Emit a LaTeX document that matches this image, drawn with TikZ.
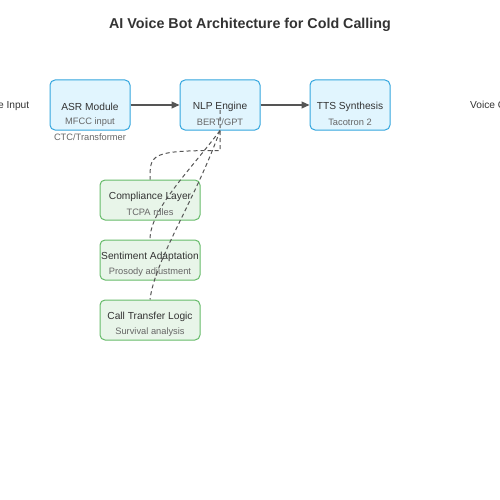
\documentclass[tikz,border=0pt]{standalone}
\usepackage{fontspec}
\setmainfont{Liberation Sans}
\usetikzlibrary{positioning,arrows.meta}
\definecolor{stageFill}{RGB}{225,245,254}
\definecolor{stageBorder}{RGB}{52,166,222}
\definecolor{layerFill}{RGB}{232,245,233}
\definecolor{layerBorder}{RGB}{102,187,106}
\definecolor{mainInk}{RGB}{51,51,51}
\definecolor{subInk}{RGB}{102,102,102}
\definecolor{flowInk}{RGB}{85,85,85}
\tikzstyle{diagram} = [x = 1pt, y = -1pt]
\tikzstyle{stageBox} = [draw=stageBorder, fill=stageFill, rounded corners = 5pt, line width = 1pt, minimum width = 80pt, minimum height = 50pt, inner sep = 0pt]
\tikzstyle{layerBox} = [draw=layerBorder, fill=layerFill, rounded corners = 5pt, line width = 1pt, minimum width = 100pt, minimum height = 40pt, inner sep = 0pt]
\tikzstyle{mainText} = [font=\fontsize{10.2}{12}\selectfont, text=mainInk, inner sep = 0pt]
\tikzstyle{subText} = [font=\fontsize{9.3}{11}\selectfont, text=subInk, inner sep = 0pt]
\tikzstyle{flowLine} = [draw=flowInk, line width = 1.2pt, -{Triangle[length=8pt, width=7pt]}]
\tikzstyle{linkLine} = [draw=flowInk, line width = 1pt, dash pattern = on 4pt off 3pt]
\newcommand{\stage}[4]{
  \node [stageBox] (#1) at (#2) {};
  \node [mainText] (#1-title) at ([yshift=-2pt]#1.center) {#3};
  \node [subText] (#1-sub) at ([yshift=-17pt]#1.center) {#4};
}
\newcommand{\layer}[4]{
  \node [layerBox] (#1) at (#2) {};
  \node [mainText] (#1-title) at ([yshift=3pt]#1.center) {#3};
  \node [subText] (#1-sub) at ([yshift=-12pt]#1.center) {#4};
}
\begin{document}
\begin{tikzpicture}[diagram]
        \useasboundingbox (0,0) rectangle (500,500);
        \clip (0,0) rectangle (500,500);
        \node [font=\fontsize{14.3}{16}\selectfont\bfseries, text=mainInk] (title) at (250,25) {AI Voice Bot Architecture for Cold Calling};
        \node [mainText] (voiceIn) at (4,106) {Voice Input};
        \node [mainText, anchor=west] (voiceOut) at (470,106) {Voice Output};
        \stage{asr}{90,105}{ASR Module}{MFCC input}
        \node [subText] (asr-extra) at (90,137) {CTC/Transformer};
        \stage{nlp}{220,105}{NLP Engine}{BERT/GPT}
        \stage{tts}{350,105}{TTS Synthesis}{Tacotron 2}
        \layer{comply}{150,200}{Compliance Layer}{TCPA rules}
        \layer{sentiment}{150,260}{Sentiment Adaptation}{Prosody adjustment}
        \layer{transfer}{150,320}{Call Transfer Logic}{Survival analysis}
        \draw [flowLine] (asr.east) -- (nlp.west);
        \draw [flowLine] (nlp.east) -- (tts.west);
        \coordinate (nlpTap) at ([yshift=-20pt]nlp.south);
        \draw [linkLine] ([yshift=-5pt]nlp.center) -- (nlpTap) .. controls +(-70,0) and +(0,-25) .. (comply.north);
        \draw [linkLine] (nlp.south) .. controls +(-30,40) and +(0,-30) .. (sentiment.north);
        \draw [linkLine] (nlp.south) .. controls +(-25,70) and +(5,-40) .. (transfer.north);
      \end{tikzpicture}
\end{document}
